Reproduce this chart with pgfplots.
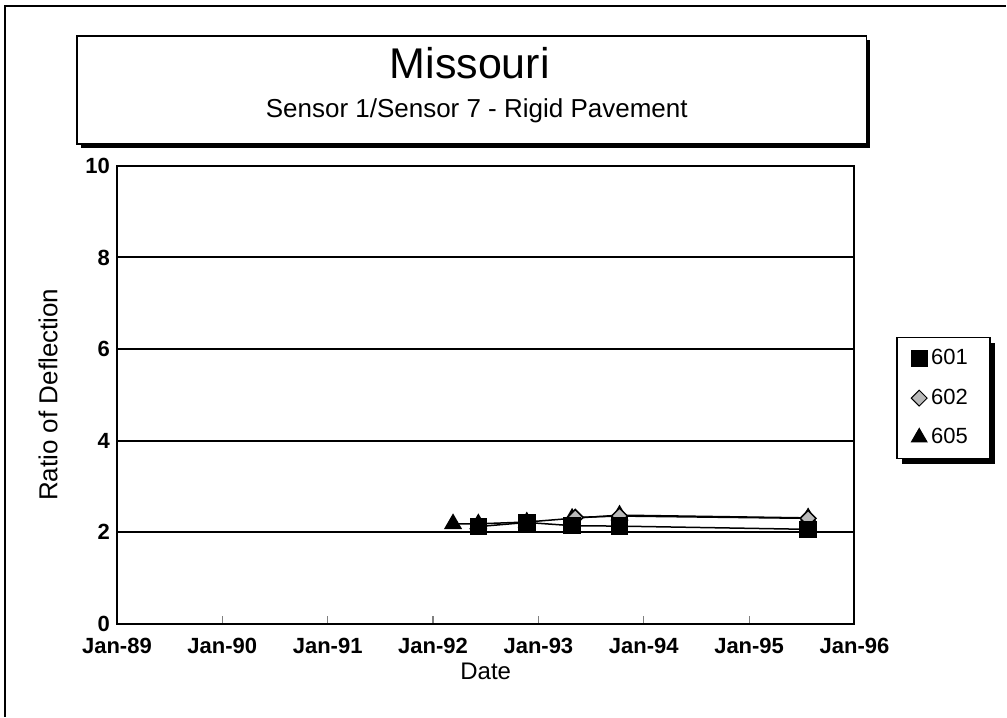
\documentclass[border=0pt]{standalone}
\usepackage{pgfplots}
\pgfplotsset{compat=1.18}
\usepackage{fontspec}
\setmainfont{Liberation Sans}
\usetikzlibrary{shadows}

% years counted from Jan-89
\pgfplotstableread{
x y
3.43 2.12
3.89 2.21
4.32 2.14
4.77 2.13
6.56 2.06
}\sixzeroone
\pgfplotstableread{
x y
4.35 2.32
4.77 2.35
6.56 2.30
}\sixzerotwo
\pgfplotstableread{
x y
3.19 2.18
3.43 2.18
3.89 2.22
4.32 2.30
4.77 2.37
6.56 2.31
}\sixzerofive

\begin{document}
\begin{tikzpicture}
\path (0,0) rectangle (503.5pt,358.5pt);
% outer frame (top and left edges of the scan)
\draw[line width=0.6pt] (2.5pt,0) -- (2.5pt,355.5pt) -- (503.5pt,355.5pt);
% title box with shadow
\fill[black] (40.5pt,284.5pt) rectangle (435.5pt,338.5pt);
\draw[line width=0.8pt,fill=white] (38.5pt,286.5pt) rectangle (433.5pt,340.5pt);
\node[anchor=base,font=\fontsize{21.5}{24}\selectfont] at (235pt,319pt) {Missouri};
\node[anchor=base,font=\fontsize{13}{15}\selectfont] at (238.5pt,299.5pt) {Sensor 1/Sensor 7 - Rigid Pavement};

\begin{axis}[
scale only axis,
at={(58.5pt,46.5pt)}, anchor=south west,
width=369pt, height=229pt,
xmin=0, xmax=7, ymin=0, ymax=10,
xtick={0,1,2,3,4,5,6,7},
xticklabels={Jan-89,Jan-90,Jan-91,Jan-92,Jan-93,Jan-94,Jan-95,Jan-96},
ytick={0,2,4,6,8,10},
xtick pos=bottom, tick align=inside,
major tick length=4pt,
ytick style={draw=none},
xtick style={line width=0.6pt},
axis line style={line width=1pt},
ymajorgrids,
major grid style={black, line width=1pt},
/pgf/number format/assume math mode=true,
xticklabel style={font=\fontsize{11}{13}\selectfont\bfseries, yshift=-3.5pt},
yticklabel style={font=\fontsize{11}{13}\selectfont\bfseries},
xlabel={Date}, ylabel={Ratio of Deflection},
every axis x label/.style={at={(axis description cs:0.5,-0.105)},anchor=center,
  font=\fontsize{12}{14}\selectfont},
every axis y label/.style={at={(axis description cs:-0.0935,0.5)},rotate=90,anchor=center,
  font=\fontsize{13}{15}\selectfont},
reverse legend,
legend style={at={(rel axis cs:1.0569,0.6266)}, anchor=north west,
  draw=black, line width=0.8pt, fill=white,
  drop shadow={shadow xshift=2.5pt, shadow yshift=-2.5pt, opacity=1, fill=black},
  font=\fontsize{11}{12}\selectfont, inner xsep=7pt, inner ysep=4pt, row sep=6.5pt},
legend cell align=left,
legend image code/.code={\draw[#1,line width=0.5pt] plot[only marks] coordinates {(0.15cm,0cm)};},
]
\addplot[black, line width=0.75pt, mark=triangle*, mark size=4.5pt, mark options={fill=black}] table {\sixzerofive};
\addlegendentry{\makebox[20.5pt][l]{605}}
\addplot[black, line width=0.75pt, mark=square*, mark size=2.8pt, mark options={fill=gray!55, rotate=45}] table {\sixzerotwo};
\addlegendentry{\makebox[20.5pt][l]{602}}
\addplot[black, line width=0.75pt, mark=square*, mark size=4pt, mark options={fill=black}] table {\sixzeroone};
\addlegendentry{\makebox[20.5pt][l]{601}}
\end{axis}
\end{tikzpicture}
\end{document}
